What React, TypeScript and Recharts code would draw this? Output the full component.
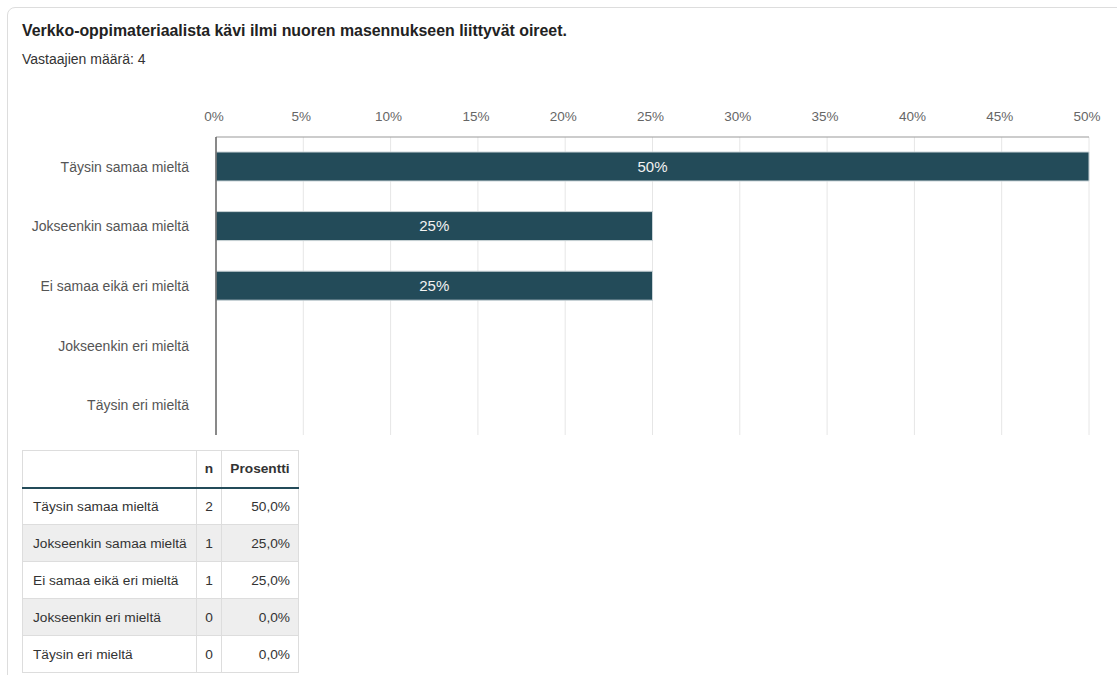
import { Bar, BarChart, CartesianGrid, LabelList, XAxis, YAxis } from 'recharts';

const FONT = '"Liberation Sans", Arial, sans-serif';
const BAR = '#234b59';
const TEXT = '#333';
const AXIS = '#666';
const GRID = '#e6e6e6';
const BORDER = '#dddddd';

const TITLE = 'Verkko-oppimateriaalista kävi ilmi nuoren masennukseen liittyvät oireet.';
const RESPONDENTS = 4;

const categories = [
  'Täysin samaa mieltä',
  'Jokseenkin samaa mieltä',
  'Ei samaa eikä eri mieltä',
  'Jokseenkin eri mieltä',
  'Täysin eri mieltä',
];
const counts = [2, 1, 1, 0, 0];
const percents = [50, 25, 25, 0, 0];
const percentTicks = [0, 5, 10, 15, 20, 25, 30, 35, 40, 45, 50];

const rows = categories.map((name, i) => ({ name, n: counts[i], pct: percents[i] }));

const cell = {
  borderRight: `1px solid ${BORDER}`,
  borderBottom: `1px solid ${BORDER}`,
  height: 37,
  padding: '0 8px',
  fontSize: 13.7,
  color: TEXT,
  boxSizing: 'border-box' as const,
};

function ResultTable() {
  return (
    <table
      style={{
        position: 'absolute',
        left: 22,
        top: 450,
        borderCollapse: 'collapse',
        borderTop: `1px solid ${BORDER}`,
        borderLeft: `1px solid ${BORDER}`,
        fontFamily: FONT,
        tableLayout: 'fixed',
        width: 276,
      }}
    >
      <colgroup>
        <col style={{ width: 174 }} />
        <col style={{ width: 25 }} />
        <col style={{ width: 77 }} />
      </colgroup>
      <thead>
        <tr>
          <th style={{ ...cell, borderBottom: `2px solid ${BAR}` }} />
          <th style={{ ...cell, borderBottom: `2px solid ${BAR}`, textAlign: 'center', padding: 0 }}>n</th>
          <th style={{ ...cell, borderBottom: `2px solid ${BAR}`, textAlign: 'center', padding: 0 }}>Prosentti</th>
        </tr>
      </thead>
      <tbody>
        {rows.map((r, i) => (
          <tr key={r.name} style={{ background: i % 2 === 1 ? '#eeeeee' : '#fff' }}>
            <td style={{ ...cell, paddingLeft: 10, paddingRight: 0, whiteSpace: 'nowrap' }}>{r.name}</td>
            <td style={{ ...cell, textAlign: 'center', padding: 0 }}>{r.n}</td>
            <td style={{ ...cell, textAlign: 'right' }}>{r.pct.toFixed(1).replace('.', ',')}%</td>
          </tr>
        ))}
      </tbody>
    </table>
  );
}

export default function App() {
  return (
    <div
      style={{
        position: 'absolute',
        left: 0,
        top: 0,
        width: 1117,
        height: 675,
        overflow: 'hidden',
        background: '#fff',
        fontFamily: FONT,
      }}
    >
      <div
        style={{
          position: 'absolute',
          left: 7,
          top: 7,
          width: 1200,
          height: 720,
          border: `1px solid ${BORDER}`,
          borderRadius: 8,
        }}
      />
      <div style={{ position: 'absolute', left: 22, top: 22, fontSize: 15.9, fontWeight: 'bold', color: '#222' }}>
        {TITLE}
      </div>
      <div style={{ position: 'absolute', left: 22, top: 51, fontSize: 14, color: TEXT }}>
        Vastaajien määrä: {RESPONDENTS}
      </div>

      <div style={{ position: 'absolute', left: 0, top: 0 }}>
        <BarChart
          width={1117}
          height={450}
          data={rows}
          layout="vertical"
          margin={{ top: 107, right: 28, bottom: 15, left: 16 }}
          barSize={29}
        >
          <CartesianGrid stroke={GRID} horizontal={false} />
          <XAxis
            type="number"
            orientation="top"
            domain={[0, 50]}
            ticks={percentTicks}
            tickFormatter={(v) => `${v}%`}
            height={30}
            tick={{ fill: AXIS, fontSize: 13.5, fontFamily: FONT, dx: -2 }}
            tickLine={false}
            tickSize={0}
            tickMargin={16}
            axisLine={{ stroke: '#999' }}
            interval={0}
          />
          <YAxis
            type="category"
            dataKey="name"
            width={200}
            tick={{ fill: '#555', fontSize: 14, fontFamily: FONT }}
            tickLine={false}
            tickSize={0}
            tickMargin={27}
            axisLine={{ stroke: '#666', strokeWidth: 1.5 }}
          />
          <Bar dataKey="pct" fill={BAR} stroke="#c9d3d7" strokeWidth={1} isAnimationActive={false}>
            <LabelList
              dataKey="pct"
              position="center"
              fill="#f2f2f2"
              fontSize={15}
              fontFamily={FONT}
              formatter={(v: any) => (v ? `${v}%` : '')}
            />
          </Bar>
        </BarChart>
      </div>

      <ResultTable />
    </div>
  );
}
